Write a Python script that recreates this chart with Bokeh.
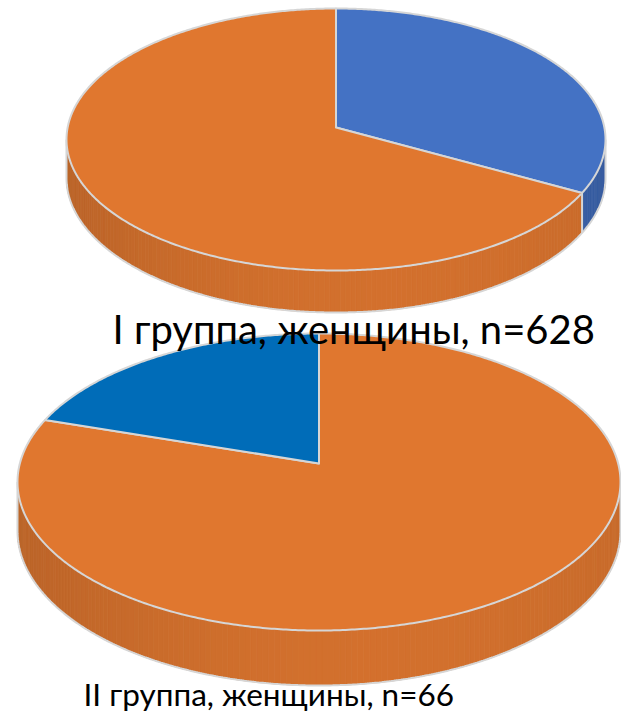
import numpy as np
from bokeh.plotting import figure
from bokeh.models import Range1d
from bokeh.embed import file_html
from bokeh.resources import INLINE
from bokeh.core.properties import value

# ---- data -------------------------------------------------------------
# Group I (women, n=628): slices clockwise from 12 o'clock
group1_label = "I группа, женщины,  n=628"
group1_values = [33, 67]
group1_colors = ["#4472C4", "#E0772F"]
group1_side_colors = ["#3A61A8", "#D2702D"]

# Group II (women, n=66): slices clockwise from 12 o'clock
group2_label = "II группа, женщины, n=66"
group2_values = [80, 20]
group2_colors = ["#E0772F", "#006CB8"]
group2_side_colors = ["#D2702D", "#005A9C"]

EDGE = "#D6D6D6"


def shade(hex_color, f):
    h = hex_color.lstrip("#")
    r, g, b = (int(h[i:i + 2], 16) for i in (0, 2, 4))
    r, g, b = (max(0, min(255, int(round(c * f)))) for c in (r, g, b))
    return "#%02x%02x%02x" % (r, g, b)


def draw_pie(p, vals, colors, side_colors, cx, cy, rx, ry, k, depth_front):
    vy = cy - ry * k
    sx = rx * np.sqrt(1 - k * k)
    sy = ry * (1 - k * k)
    d0 = depth_front * (1 - k)

    def proj(phi):
        x = np.sin(phi)
        z = -np.cos(phi)
        den = 1 - k * z
        X = cx + sx * x / den
        Y = vy + sy * z / den
        D = d0 / den
        return X, Y, D

    vals = np.asarray(vals, dtype=float)
    fr = np.concatenate([[0.0], np.cumsum(vals) / vals.sum()])
    bounds = fr * 2 * np.pi

    # visible wall range (front half, between silhouette points)
    v0 = k / (1 - k * k)
    z_ext = v0 / (1 + k * v0)
    a_lo = np.arccos(-z_ext)
    a_hi = 2 * np.pi - a_lo

    # --- walls as vertical strips with a soft horizontal gradient ---
    wx, wy, wc = [], [], []
    for i in range(len(vals)):
        lo = max(bounds[i], a_lo)
        hi = min(bounds[i + 1], a_hi)
        if hi <= lo:
            continue
        n = max(2, int((hi - lo) / (2 * np.pi) * 360))
        ph = np.linspace(lo, hi, n + 1)
        X, Y, D = proj(ph)
        for j in range(n):
            t = ((X[j] + X[j + 1]) / 2 - cx) / rx
            f = 1 + 0.03 * t - 0.08 * t * t
            c = shade(side_colors[i], f)
            wx.append([X[j], X[j + 1], X[j + 1], X[j]])
            wy.append([Y[j], Y[j + 1], Y[j + 1] + D[j + 1], Y[j] + D[j]])
            wc.append(c)
    p.patches(wx, wy, fill_color=wc, line_color=wc, line_width=0.8)

    # wall outline: bottom arc and vertical edges
    ph = np.linspace(a_lo, a_hi, 400)
    X, Y, D = proj(ph)
    p.line(X, Y + D, line_color=EDGE, line_width=2)
    edges = [a_lo, a_hi] + [b for b in bounds[1:-1] if a_lo < b < a_hi]
    for b in edges:
        Xb, Yb, Db = proj(np.array([b]))
        p.line([Xb[0], Xb[0]], [Yb[0], Yb[0] + Db[0]], line_color=EDGE, line_width=2)

    # --- top face slices ---
    px, py = [], []
    for i in range(len(vals)):
        n = max(2, int((bounds[i + 1] - bounds[i]) / (2 * np.pi) * 720))
        ph = np.linspace(bounds[i], bounds[i + 1], n + 1)
        X, Y, _ = proj(ph)
        px.append(np.concatenate([[cx], X]))
        py.append(np.concatenate([[vy], Y]))
    p.patches(px, py, fill_color=list(colors), line_color=EDGE, line_width=2,
              line_join="round")


p = figure(width=621, height=717, output_backend="svg", toolbar_location=None,
           x_range=Range1d(0, 621), y_range=Range1d(717, 0),
           min_border=0, min_border_left=0, min_border_right=0,
           min_border_top=0, min_border_bottom=0)
p.axis.visible = False
p.grid.visible = False
p.outline_line_color = None
p.background_fill_color = "white"
p.border_fill_color = "white"

draw_pie(p, group1_values, group1_colors, group1_side_colors,
         cx=335.5, cy=139, rx=269.5, ry=131, k=0.092, depth_front=42)
draw_pie(p, group2_values, group2_colors, group2_side_colors,
         cx=318.5, cy=481.5, rx=301.5, ry=148.5, k=0.125, depth_front=55)

p.text(x=[112], y=[328], text=[group1_label], text_font=value("Lato"),
       text_font_size=value("40px"), text_color="black",
       text_align="left", text_baseline="alphabetic")
p.text(x=[83], y=[693], text=[group2_label], text_font=value("Lato"),
       text_font_size=value("31.5px"), text_color="black",
       text_align="left", text_baseline="alphabetic")

open("out.html", "w").write(file_html(p, INLINE))
